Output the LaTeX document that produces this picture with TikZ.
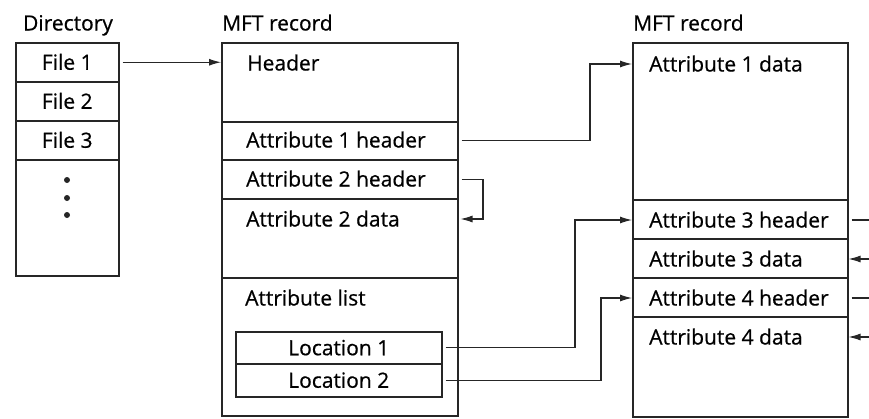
\documentclass[tikz,border=0pt]{standalone}
\usepackage{fontspec}
\setmainfont{Open Sans}[FakeBold=0.6]
\usetikzlibrary{arrows.meta}
\begin{document}
\begin{tikzpicture}[x=1pt,y=-1pt,
  row/.style={draw=black!85, line width=1.5pt, inner sep=0pt, anchor=north west, rectangle},
  txt/.style={font=\fontsize{21}{24}\selectfont, inner sep=0pt, text height=15pt, text depth=0pt},
  lt/.style={txt, anchor=west},
  ln/.style={draw=black!85, line width=1.1pt},
  conn/.style={ln, -{Latex[length=12pt,width=7pt]}, shorten <=3pt}
]
\useasboundingbox (0,0) rectangle (869,418);
% labels
\node[txt] (ldir) at (68,23) {Directory};
\node[lt] (lmft1) at (222,23) {MFT record};
\node[lt] (lmft2) at (633,23) {MFT record};
% directory
\node[row, minimum width=103pt, minimum height=39pt] (f1) at (15,42) {};
\node[row, minimum width=103pt, minimum height=39pt] (f2) at (15,81) {};
\node[row, minimum width=103pt, minimum height=39pt] (f3) at (15,120) {};
\node[row, minimum width=103pt, minimum height=116pt] (fr) at (15,159) {};
\node[txt] (f1t) at (f1.center) {File 1};
\node[txt] (f2t) at (f2.center) {File 2};
\node[txt] (f3t) at (f3.center) {File 3};
\foreach \yy in {180,198,215} \fill[black!85] (67,\yy) circle (3pt);
% MFT record 1
\node[row, minimum width=236pt, minimum height=79pt] (hdr) at (221,42) {};
\node[row, minimum width=236pt, minimum height=38pt] (a1h) at (221,121) {};
\node[row, minimum width=236pt, minimum height=39pt] (a2h) at (221,159) {};
\node[row, minimum width=236pt, minimum height=79pt] (a2d) at (221,198) {};
\node[row, minimum width=236pt, minimum height=138pt] (al) at (221,277) {};
\node[lt] (hdrt) at (247,63) {Header};
\node[lt] (a1ht) at (246,140) {Attribute 1 header};
\node[lt] (a2ht) at (246,179) {Attribute 2 header};
\node[lt] (a2dt) at (246,219) {Attribute 2 data};
\node[lt] (alt) at (245,298) {Attribute list};
\node[row, minimum width=206pt, minimum height=32pt] (loc1) at (235,331) {};
\node[row, minimum width=206pt, minimum height=33pt] (loc2) at (235,363) {};
\node[txt] (loc1t) at (loc1.center) {Location 1};
\node[txt] (loc2t) at (loc2.center) {Location 2};
% MFT record 2
\node[row, minimum width=215pt, minimum height=157pt] (a1d) at (632,42) {};
\node[row, minimum width=215pt, minimum height=39pt] (a3h) at (632,199) {};
\node[row, minimum width=215pt, minimum height=39pt] (a3d) at (632,238) {};
\node[row, minimum width=215pt, minimum height=39pt] (a4h) at (632,277) {};
\node[row, minimum width=215pt, minimum height=100pt] (a4d) at (632,316) {};
\node[lt] (a1dt) at (649,64) {Attribute 1 data};
\node[lt] (a3ht) at (649,220) {Attribute 3 header};
\node[lt] (a3dt) at (649,259) {Attribute 3 data};
\node[lt] (a4ht) at (649,298) {Attribute 4 header};
\node[lt] (a4dt) at (649,337) {Attribute 4 data};
% bend coordinates
\coordinate (b1) at (590,0);
\coordinate (b2) at (483,0);
\coordinate (b3) at (575,0);
\coordinate (b4) at (601,0);
\coordinate (o1) at (869,0);
% connectors
\draw[conn] (f1.east) -- (hdr.west |- f1.east);
\draw[conn] (a1h.east) -| (b1 |- a1dt) -- (a1dt -| a1d.west);
\draw[conn, shorten >=2pt] (a2h.east) -| (b2 |- a2dt) -- (a2dt -| a2d.east);
\draw[conn] (loc1.east) -| (b3 |- a3ht) -- (a3ht -| a3h.west);
\draw[conn] (loc2.east) -| (b4 |- a4ht) -- (a4ht -| a4h.west);
\draw[ln, shorten <=3pt] (a3ht -| a3h.east) -- (a3ht -| o1);
\draw[conn, shorten <=0pt] (a3dt -| o1) -- (a3dt -| a3d.east);
\draw[ln, shorten <=3pt] (a4ht -| a4h.east) -- (a4ht -| o1);
\draw[conn, shorten <=0pt] (a4dt -| o1) -- (a4dt -| a4d.east);
\end{tikzpicture}
\end{document}
